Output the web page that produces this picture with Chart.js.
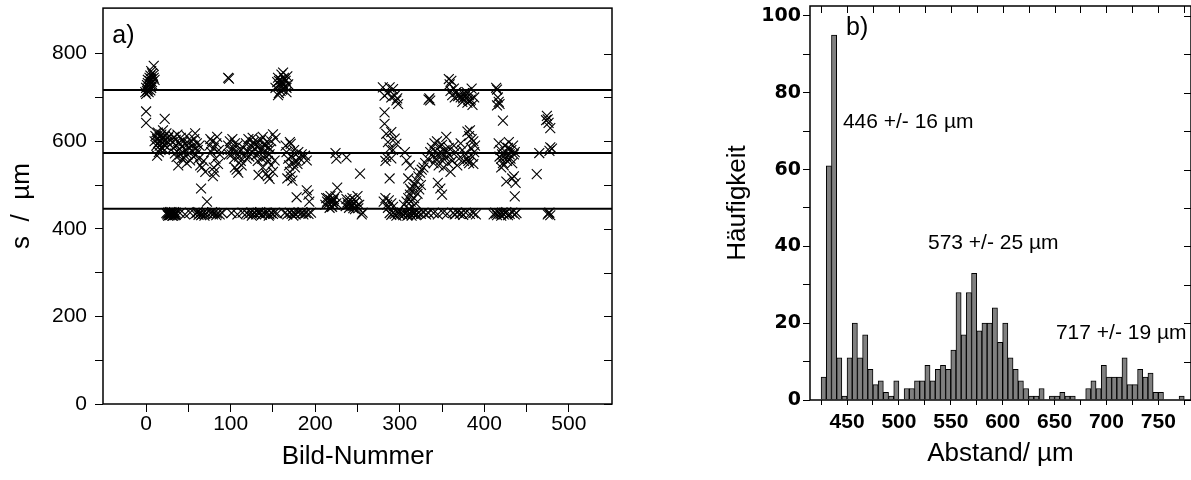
<!DOCTYPE html>
<html>
<head>
<meta charset="utf-8">
<script src="https://cdn.jsdelivr.net/npm/chart.js@4.4.1/dist/chart.umd.min.js"></script>
<style>
  html, body { margin: 0; padding: 0; background: #fff; }
  #wrap { position: relative; width: 1191px; height: 480px; overflow: hidden; }
  #left { position: absolute; left: 0; top: 0; }
  #right { position: absolute; left: 640px; top: 0; }
</style>
</head>
<body>
<div id="wrap">
  <canvas id="left" width="640" height="480"></canvas>
  <canvas id="right" width="551" height="480"></canvas>
</div>
<script>
// a) Abstand s je Bild-Nummer  [Bild, s in µm]
const scatterPoints = [
  [0,708],[1,715],[0,722],[2,718],[1,728],[2,733],[3,725],[4,738],[5,730],[4,745],[6,742],[6,722],[7,735],[8,750],[7,755],[9,772],[3,712],[5,716],[8,728],[10,740],[2,740],[-1,712],[6,760],[9,745],[5,750],
  [0,668],[0,642],[22,651],
  [97,745],[98,743],
  [153,722],[155,735],[156,745],[157,710],[158,728],[159,740],[160,752],[161,718],[162,732],[163,745],[164,725],[165,738],[166,712],[167,748],[156,705],[162,757],[159,715],[164,742],[157,738],[161,726],[168,730],[166,722],[160,735],
  [10,600],[11,612],[12,590],[13,605],[14,620],[15,598],[15,575],[16,610],[17,602],[18,615],[18,585],[19,596],[20,607],[20,625],[21,592],[22,612],[23,603],[24,618],[25,598],[26,608],[13,567],[17,580],[22,580],[12,620],[27,612],[16,590],[19,606],[21,600],[14,595],[23,590],
  [31,598],[32,585],[33,610],[34,572],[35,603],[36,590],[36,564],[37,615],[38,580],[38,545],[39,597],[40,570],[41,608],[42,588],[43,575],[44,600],[45,562],[46,593],[47,580],[48,612],[49,570],[50,595],[51,585],[52,556],[53,600],[54,578],[55,590],[56,565],[57,605],[58,583],[59,570],[60,595],[61,580],[62,560],[63,590],[64,545],[58,618],[42,560],[48,550],
  [65,492],[72,462],[70,530],[66,540],[68,555],
  [75,590],[77,575],[78,600],[80,585],[82,560],[83,595],[85,548],[86,580],[79,520],[81,530],[76,605],[84,610],[87,570],[80,540],
  [97,590],[99,600],[100,580],[101,570],[103,585],[104,560],[105,595],[106,575],[108,590],[110,565],[111,578],[112,555],[107,535],[109,528],[113,545],[102,605],[98,570],[105,540],
  [115,585],[117,570],[118,595],[120,578],[121,605],[122,565],[124,590],[125,575],[127,598],[128,583],[130,568],[131,600],[133,588],[134,573],[136,603],[137,560],[139,592],[140,578],[142,565],[143,598],[145,585],[146,570],[148,600],[119,560],[126,608],[132,555],[138,610],[144,555],[129,592],[135,580],[141,590],[147,582],
  [133,523],[142,526],[146,514],[150,530],[148,545],[152,556],[150,616],[153,607],[138,540],[144,520],
  [165,590],[166,575],[168,560],[169,545],[170,530],[171,520],[172,565],[174,550],[175,580],[176,540],[177,570],[178,555],[180,575],[182,560],[167,515],[173,510],[170,598],[179,548],[171,594],[184,570],
  [188,567],[190,556],[178,472],[190,488],[192,478],[193,462],
  [224,573],[225,560],[226,494],[237,563],[253,526],
  [212,455],[214,462],[215,470],[216,458],[218,466],[219,452],[220,460],[222,468],[223,455],[224,474],[217,448],[221,463],[213,470],[225,458],[220,450],[218,475],
  [236,452],[238,460],[240,448],[241,466],[243,455],[244,470],[245,447],[246,458],[248,463],[249,452],[250,475],[247,445],[242,458],[252,455],[237,468],[251,447],[244,452],[239,455],
  [280,723],[288,723],[292,719],[282,704],[294,704],[296,693],[298,685],[286,711],[290,700],[297,698],
  [282,666],[282,640],[284,617],[290,621],[294,606],[286,598],[296,594],[288,583],[284,564],[290,561],[288,515],[306,575],[308,556],[312,545],[283,555],[292,580],
  [281,462],[283,470],[285,455],[287,465],[290,458],[292,450],[286,448],
  [334,695],[335,698],[336,693],
  [358,742],[359,730],[360,715],[362,705],[364,720],[365,700],[367,712],[370,705],[372,700],[374,690],[376,710],[378,698],[380,688],[382,705],[384,695],[385,720],[386,683],[388,700],[375,698],[377,703],[379,712],[381,695],[383,692],[361,738],[369,703],
  [333,560],[336,575],[338,585],[339,565],[340,550],[341,595],[342,578],[343,560],[344,600],[345,570],[346,545],[347,588],[348,575],[349,558],[350,592],[351,570],[352,540],[353,580],[354,563],[355,610],[356,575],[357,550],[358,585],[359,568],[360,530],[362,555],[364,590],[366,575],[368,545],[370,560],[372,595],[374,580],[376,555],[378,570],[380,560],[382,550],[383,625],[384,585],[385,605],[386,565],[388,575],[389,590],[387,548],[380,622],[382,612],[381,555],[387,600],
  [345,505],[348,492],[350,478],
  [305,455],[308,462],[310,470],[312,478],[314,486],[316,495],[318,502],[320,510],[322,520],[324,528],[326,535],[313,462],[317,470],[321,480],[315,450],[319,458],[311,446],[323,490],[328,540],[325,500],[330,550],[310,515],[312,492],
  [414,722],[415,718],[416,700],[417,690],[415,682],[418,685],[422,647],
  [417,595],[419,580],[420,560],[421,570],[422,550],[424,590],[425,575],[426,565],[427,555],[428,585],[429,598],[430,570],[431,560],[432,580],[433,550],[434,590],[435,570],[423,545],[418,565],[436,575],
  [420,540],[426,508],[435,520],[437,505],[436,474],[433,515],
  [462,525],[465,573],[474,658],[475,650],[476,642],[478,630],[473,648],[477,578],[478,586],[480,583],
  [24,436],[25,433],[26,430],[27,435],[28,431],[28,438],[29,436],[30,433],[30,438],[31,430],[32,436],[32,430],[33,433],[34,435],[35,432],[26,437],[29,432],[31,435],[33,438],[35,437],[27,431],[34,431],
  [40,436],[46,433],[52,437],
  [58,434],[60,437],[62,432],[64,436],[66,433],[68,437],[70,434],[72,436],[61,438],[65,431],[69,430],
  [76,436],[79,433],[81,437],[84,435],[87,433],[90,436],[78,438],[83,431],
  [101,436],[108,433],[114,437],
  [119,436],[121,433],[124,437],[126,434],[128,436],[130,433],[132,437],[134,435],[137,432],[139,436],[141,434],[143,437],[146,433],[148,436],[150,434],[152,437],[155,435],[125,430],[135,438],[145,430],
  [164,436],[167,433],[170,437],[172,434],[175,436],[177,433],[180,437],[183,435],[186,433],[189,436],[192,434],[195,437],[174,430],[185,438],
  [255,433],[256,437],
  [288,436],[290,432],[292,437],[294,434],[296,430],[298,436],[300,433],[302,437],[304,431],[306,435],[308,438],[310,432],[312,436],[314,430],[316,434],[318,437],[320,433],[322,436],[325,434],[328,437],[331,433],[334,436],[297,438],[303,434],[309,430],[315,437],[319,431],
  [340,436],[345,433],[351,437],[356,434],[363,436],[365,433],[368,437],[371,434],[373,436],[375,432],[378,437],[383,434],[387,436],[390,433],
  [411,433],[413,437],[415,431],[417,436],[419,434],[421,437],[423,433],[425,436],[428,431],[430,434],[433,437],[436,433],[438,436],[414,435],[420,430],[426,438],
  [475,433],[477,437],[478,431],[476,436]
];
const levels = [446, 573, 717];
const aXTicks = [0, 50, 100, 150, 200, 250, 300, 350, 400, 450, 500];
const aXLabels = [0, 100, 200, 300, 400, 500];
const aYTicks = [0, 100, 200, 300, 400, 500, 600, 700, 800];
const aYLabels = [0, 200, 400, 600, 800];

// b) Histogramm der Abstaende (Klassenbreite 5 µm)
const binCenters = [
  427.5, 432.5, 437.5, 442.5, 447.5, 452.5, 457.5, 462.5, 467.5, 472.5,
  477.5, 482.5, 487.5, 492.5, 497.5, 502.5, 507.5, 512.5, 517.5, 522.5,
  527.5, 532.5, 537.5, 542.5, 547.5, 552.5, 557.5, 562.5, 567.5, 572.5,
  577.5, 582.5, 587.5, 592.5, 597.5, 602.5, 607.5, 612.5, 617.5, 622.5,
  627.5, 632.5, 637.5, 642.5, 647.5, 652.5, 657.5, 662.5, 667.5, 672.5,
  677.5, 682.5, 687.5, 692.5, 697.5, 702.5, 707.5, 712.5, 717.5, 722.5,
  727.5, 732.5, 737.5, 742.5, 747.5, 752.5, 757.5, 762.5, 767.5, 772.5
];
const counts = [
  6, 61, 95, 11, 1, 11, 20, 11, 17, 8,
  4, 5, 2, 1, 5, 0, 3, 3, 5, 5,
  9, 5, 8, 9, 8, 13, 28, 17, 28, 33,
  18, 20, 20, 24, 15, 20, 11, 8, 5, 3,
  1, 1, 3, 0, 1, 1, 2, 1, 1, 0,
  0, 3, 5, 3, 9, 6, 6, 6, 11, 4,
  4, 8, 6, 7, 2, 2, 0, 0, 0, 1
];
const bXTicks = [425, 450, 475, 500, 525, 550, 575, 600, 625, 650, 675, 700, 725, 750, 775];
const bXLabels = [450, 500, 550, 600, 650, 700, 750];
const bYTicks = [0, 10, 20, 30, 40, 50, 60, 70, 80, 90, 100];
const bYLabels = [0, 20, 40, 60, 80, 100];

const SANS = "'Liberation Sans', Arial, sans-serif";

// Rahmen + nach innen zeigende Ticks oben/rechts
const framePlugin = {
  id: 'frame',
  afterDraw(chart, args, opts) {
    const { ctx, chartArea: a, scales } = chart;
    ctx.save();
    ctx.strokeStyle = '#000';
    ctx.lineWidth = 1.5;
    ctx.strokeRect(a.left, a.top, a.right - a.left, a.bottom - a.top);
    ctx.lineWidth = 1;
    ctx.beginPath();
    if (opts.right) {
      scales.y.ticks.forEach(t => {
        const y = Math.round(scales.y.getPixelForValue(t.value)) + 0.5;
        ctx.moveTo(a.right, y);
        ctx.lineTo(a.right - opts.len, y);
      });
    }
    if (opts.top) {
      scales.x.ticks.forEach(t => {
        const x = Math.round(scales.x.getPixelForValue(t.value)) + 0.5;
        ctx.moveTo(x, a.top);
        ctx.lineTo(x, a.top + opts.len);
      });
    }
    ctx.stroke();
    ctx.restore();
  }
};

const notesPlugin = {
  id: 'notes',
  afterDraw(chart, args, opts) {
    const { ctx, scales } = chart;
    ctx.save();
    ctx.fillStyle = '#000';
    ctx.textAlign = 'left';
    ctx.textBaseline = 'middle';
    (opts.items || []).forEach(n => {
      ctx.font = n.font;
      ctx.fillText(n.text, scales.x.getPixelForValue(n.x), scales.y.getPixelForValue(n.y));
    });
    ctx.restore();
  }
};

function fixedTicks(list) {
  return scale => { scale.ticks = list.map(v => ({ value: v })); };
}
function fitX(h) {
  return s => { s.height = h; s.paddingLeft = 0; s.paddingRight = 0; };
}
function fitY(w) {
  return s => { s.width = w; s.paddingTop = 0; s.paddingBottom = 0; };
}

new Chart(document.getElementById('left'), {
  type: 'scatter',
  data: {
    datasets: [
      ...levels.map(v => ({
        data: [{ x: -51, y: v }, { x: 551, y: v }],
        showLine: true, borderColor: '#000', borderWidth: 2, pointRadius: 0
      })),
      {
        data: scatterPoints.map(p => ({ x: p[0], y: p[1] })),
        pointStyle: 'crossRot', pointRadius: 7, borderColor: '#000',
        borderWidth: 1.1, backgroundColor: 'rgba(0,0,0,0)'
      }
    ]
  },
  options: {
    responsive: false, animation: false, events: [],
    layout: { padding: { left: 0, top: 3, right: 28, bottom: 0 } },
    plugins: {
      legend: { display: false }, tooltip: { enabled: false },
      frame: { right: true, top: false, len: 8 },
      notes: { items: [{ text: 'a)', x: -40, y: 841, font: '25px ' + SANS }] }
    },
    scales: {
      x: {
        type: 'linear', min: -51, max: 551,
        afterFit: fitX(76),
        afterBuildTicks: fixedTicks(aXTicks),
        ticks: { autoSkip: false, maxRotation: 0, color: '#000', padding: 0,
          font: { family: SANS, size: 21 },
          callback: v => aXLabels.includes(v) ? String(v) : '' },
        grid: { drawOnChartArea: false, tickLength: 8, color: '#000' },
        border: { display: false },
        title: { display: true, text: 'Bild-Nummer', color: '#000',
          font: { family: SANS, size: 26 }, padding: { top: 0, bottom: 8 } }
      },
      y: {
        type: 'linear', min: 0, max: 904,
        afterFit: fitY(103),
        afterBuildTicks: fixedTicks(aYTicks),
        ticks: { autoSkip: false, color: '#000', padding: 8,
          font: { family: SANS, size: 21 },
          callback: v => aYLabels.includes(v) ? String(v) : '' },
        grid: { drawOnChartArea: false, tickLength: 8, color: '#000' },
        border: { display: false },
        title: { display: true, text: 's  /  µm', color: '#000',
          font: { family: SANS, size: 26 }, padding: { top: 6, bottom: 0 } }
      }
    }
  },
  plugins: [framePlugin, notesPlugin]
});

new Chart(document.getElementById('right'), {
  type: 'bar',
  data: {
    datasets: [{
      data: binCenters.map((x, i) => ({ x: x, y: counts[i] })),
      backgroundColor: '#808080', borderColor: '#000', borderWidth: 1,
      barPercentage: 1, categoryPercentage: 1, grouped: false
    }]
  },
  options: {
    responsive: false, animation: false, events: [],
    layout: { padding: { left: 0, top: 6, right: 0, bottom: 0 } },
    plugins: {
      legend: { display: false }, tooltip: { enabled: false },
      frame: { right: true, top: true, len: 7 },
      notes: { items: [
        { text: 'b)', x: 449, y: 96.9, font: '25px ' + SANS },
        { text: '446 +/- 16 µm', x: 446, y: 72.4, font: '21px ' + SANS },
        { text: '573 +/- 25 µm', x: 528, y: 40.9, font: '21px ' + SANS },
        { text: '717 +/- 19 µm', x: 651.3, y: 17.4, font: '21px ' + SANS }
      ] }
    },
    scales: {
      x: {
        type: 'linear', min: 414.3, max: 781.5, offset: false,
        afterFit: fitX(80),
        afterBuildTicks: fixedTicks(bXTicks),
        ticks: { autoSkip: false, maxRotation: 0, color: '#000', padding: 5,
          font: { family: SANS, size: 21, weight: 'bold' },
          callback: v => bXLabels.includes(v) ? String(v) : '' },
        grid: { drawOnChartArea: false, offset: false, tickLength: 5, color: '#000' },
        border: { display: false },
        title: { display: true, text: 'Abstand/ µm', color: '#000',
          font: { family: SANS, size: 26 }, padding: { top: 0, bottom: 11 } }
      },
      y: {
        type: 'linear', min: 0, max: 102.6,
        afterFit: fitY(170),
        afterBuildTicks: fixedTicks(bYTicks),
        ticks: { autoSkip: false, color: '#000', padding: 2,
          font: { family: "'DejaVu Sans', sans-serif", size: 19, weight: 'bold' },
          callback: v => bYLabels.includes(v) ? String(v) : '' },
        grid: { drawOnChartArea: false, tickLength: 7, color: '#000' },
        border: { display: false },
        title: { display: true, text: 'Häufigkeit', color: '#000',
          font: { family: SANS, size: 26 }, padding: { top: 82, bottom: 0 } }
      }
    }
  },
  plugins: [framePlugin, notesPlugin]
});
</script>
</body>
</html>
